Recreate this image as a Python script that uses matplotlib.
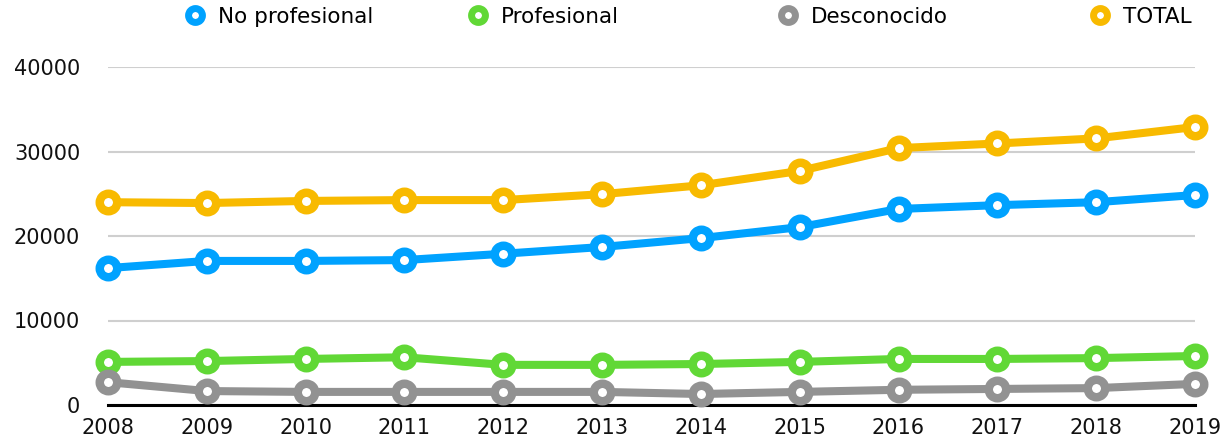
import numpy as np
import matplotlib.pyplot as plt

plt.rcParams['font.family'] = ['DejaVu Sans']

years = [2008, 2009, 2010, 2011, 2012, 2013, 2014, 2015, 2016, 2017, 2018, 2019]
no_profesional = [16200, 17050, 17050, 17150, 17900, 18700, 19750, 21050, 23200, 23650, 24000, 24850]
profesional = [5100, 5200, 5450, 5650, 4750, 4750, 4850, 5100, 5450, 5450, 5550, 5800]
desconocido = [2700, 1650, 1550, 1550, 1550, 1550, 1300, 1550, 1800, 1900, 2000, 2500]
total = [24000, 23900, 24150, 24250, 24250, 24950, 26000, 27700, 30400, 30950, 31550, 32900]

series = [
    ('No profesional', no_profesional, '#00A2FF'),
    ('Profesional', profesional, '#61D836'),
    ('Desconocido', desconocido, '#929292'),
    ('TOTAL', total, '#F8BA00'),
]
# legend marker centres, in pixels across the figure
legend_x = [195, 478, 788, 1100]

W, H = 1227, 443
fig = plt.figure(figsize=(W / 100, H / 100), dpi=100)
ax = fig.add_axes([108 / W, 1 - 405 / H, (1195 - 108) / W, (405 - 67) / H])

fs = 15.5
for (name, vals, col), lx in zip(series, legend_x):
    ax.plot(years, vals, color=col, lw=5.8, marker='o', ms=12.6, mew=6.1,
            mfc='white', mec=col, clip_on=False, zorder=3)
    h, = ax.plot([], [], ls='none', marker='o', ms=10, mew=5, mfc='white', mec=col, label=name)
    # one legend per entry, so the spacing can follow the original
    x0 = (lx - 0.6 * fs * 100 / 72) / W
    fig.legend(handles=[h], loc='center left', bbox_to_anchor=(x0, 1 - 17 / H),
               frameon=False, fontsize=fs, handlelength=1.2, handletextpad=0.45,
               borderpad=0, borderaxespad=0)

ax.set_xlim(2008, 2019)
ax.set_ylim(0, 40000)
ax.set_xticks(years)
ax.set_yticks([0, 10000, 20000, 30000, 40000])
ax.tick_params(axis='both', length=0, labelsize=15, colors='#111111')
ax.tick_params(axis='y', pad=20)
ax.tick_params(axis='x', pad=9)
ax.grid(axis='y', color='#CFCFCF', lw=1.5)
ax.set_axisbelow(True)
for s in ['top', 'right', 'left']:
    ax.spines[s].set_visible(False)
ax.spines['bottom'].set_color('black')
ax.spines['bottom'].set_linewidth(2.2)
ax.spines['bottom'].set_zorder(2)

fig.savefig('out.png', dpi=100)
